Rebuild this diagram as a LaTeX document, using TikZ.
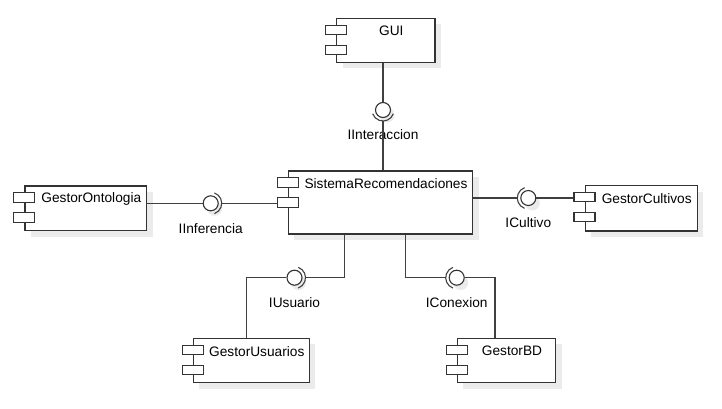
\documentclass[tikz,border=0pt]{standalone}
\usepackage{fontspec}
\setmainfont{Liberation Sans}
\usepackage{tikz}
\usetikzlibrary{positioning,calc,shadows}

\begin{document}
\begin{tikzpicture}[x=1pt, y=-1pt,
  comp/.style={rectangle, draw=black!80, line width=1.1pt, fill=white, inner sep=0pt,
    drop shadow={shadow xshift=6pt, shadow yshift=-6pt, fill=black!8, opacity=1}},
  tab/.style={rectangle, draw=black!80, line width=1.1pt, fill=white, inner sep=0pt,
    minimum width=21pt, minimum height=9.3pt},
  ctext/.style={inner sep=0pt, font=\fontsize{13.7}{16}\selectfont},
  ilabel/.style={inner sep=0pt, font=\fontsize{13.7}{16}\selectfont},
  ball/.style={circle, draw=black!80, line width=1.1pt, fill=white, inner sep=0pt,
    minimum size=15pt, drop shadow={shadow xshift=4pt, shadow yshift=-5pt, fill=black!8, opacity=1}},
  socket/.style={circle, inner sep=0pt, minimum size=22pt},
  conn/.style={draw=black!75, line width=1.1pt}]
\useasboundingbox (0,0) rectangle (722,409);

% Components
\foreach \c/\x/\y/\w/\h/\t in {gui/385.8/40.3/98.3/44/GUI,
    sis/380.5/202.5/184.4/63/SistemaRecomendaciones,
    gont/85.8/208.3/121.7/44.7/GestorOntologia,
    gcul/641.2/208.3/112.3/45.3/GestorCultivos,
    gusu/251.3/360.5/116/44.4/GestorUsuarios,
    gbd/506.5/360.5/98.4/44.4/GestorBD}
{
  \node[comp, minimum width=\w pt, minimum height=\h pt] (\c) at (\x,\y) {};
  \node[tab] (\c-t1) at ($(\c.north west)+(0,12)$) {};
  \node[tab] (\c-t2) at ($(\c.north west)+(0,32)$) {};
  \node[ctext] (\c-l) at ($(\c.north)+(5.5,13.5)$) {\t};
}

% Interfaces
\foreach \i/\x/\y/\t/\a in {iint/383/110/IInteraccion/90,
    iinf/210.7/203.3/IInferencia/0,
    icul/528.3/198/ICultivo/180,
    iusu/294.5/277.7/IUsuario/0,
    icon/456.7/277.7/IConexion/180}
{
  \node[socket] (\i-s) at (\x,\y) {};
  \node[ball] (\i) at (\x,\y) {};
  \draw[conn] ([shift={(\a-70:11)}]\i-s.center) arc[start angle=\a-70, end angle=\a+70, radius=11];
  \node[ilabel] (\i-l) at ($(\i)+(0,25)$) {\t};
}

% Connections
\draw[conn] (iint |- gui.south) -- (iint.north);
\draw[conn] (iint-s.south) -- (iint-s |- sis.north);
\draw[conn] (gont.east |- iinf) -- (iinf.west);
\draw[conn] (iinf-s.east) -- (iinf-s -| sis-t2.west);
\draw[conn] (sis.east |- icul-s) -- (icul-s.west);
\draw[conn] (icul.east) -- (icul -| gcul-t1.west);
\draw[conn] ([xshift=-36.2pt]sis.south) |- (iusu-s.east);
\draw[conn] (iusu.west) -| ([xshift=-4.6pt]gusu.north);
\draw[conn] ([xshift=25.2pt]sis.south) |- (icon-s.west);
\draw[conn] (icon.east) -| ([xshift=-11.5pt]gbd.north);
\end{tikzpicture}
\end{document}
